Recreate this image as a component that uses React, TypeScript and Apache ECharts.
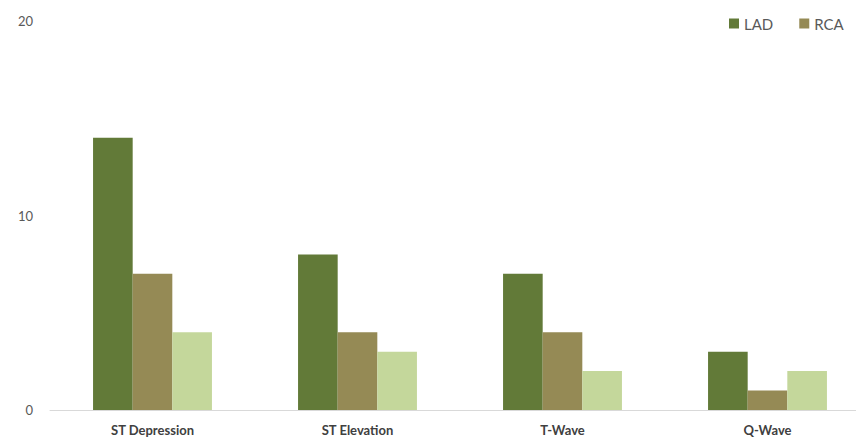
import React, { useEffect, useRef } from "react";
import * as echarts from "echarts";

const categories = ["ST Depression", "ST Elevation", "T-Wave", "Q-Wave"];
const seriesNames = ["LAD", "RCA", "LCX"];
const ladValues = [14, 8, 7, 3];
const rcaValues = [7, 4, 4, 1];
const lcxValues = [4, 3, 2, 2];
const colors = ["#627A38", "#958A55", "#C4D79B"];

export default function App() {
  const ref = useRef<HTMLDivElement>(null);
  useEffect(() => {
    document.body.style.margin = "0";
    document.body.style.overflow = "hidden";
    if (!ref.current) return;
    const chart = echarts.init(ref.current, null, { renderer: "svg" });
    const data = [ladValues, rcaValues, lcxValues];
    chart.setOption({
      animation: false,
      backgroundColor: "#ffffff",
      legend: {
        left: 724,
        top: 11,
        width: 400,
        itemWidth: 10,
        itemHeight: 10,
        itemGap: 26,
        icon: "rect",
        textStyle: { color: "#595959", fontSize: 15, fontFamily: "Lato" },
        data: seriesNames,
      },
      grid: { left: 50, top: 21, right: 0, bottom: 34, containLabel: false },
      xAxis: {
        type: "category",
        data: categories,
        axisLine: { lineStyle: { color: "#D9D9D9", width: 1 } },
        axisTick: { show: false },
        axisLabel: {
          color: "#404040",
          fontSize: 13,
          fontWeight: "bold",
          fontFamily: "Lato",
          margin: 13,
        },
      },
      yAxis: {
        type: "value",
        min: 0,
        max: 20,
        interval: 10,
        axisLine: { show: false },
        axisTick: { show: false },
        splitLine: { show: false },
        axisLabel: { color: "#595959", fontSize: 13, fontFamily: "Lato", margin: 17 },
      },
      series: seriesNames.map((name, i) => ({
        name,
        type: "bar",
        data: data[i],
        barGap: "0%",
        barCategoryGap: "42%",
        itemStyle: { color: colors[i] },
      })),
    });
    return () => chart.dispose();
  }, []);
  return (
    <div style={{ width: 856, height: 444, overflow: "hidden" }}>
      <div ref={ref} style={{ width: 870, height: 444 }} />
    </div>
  );
}
